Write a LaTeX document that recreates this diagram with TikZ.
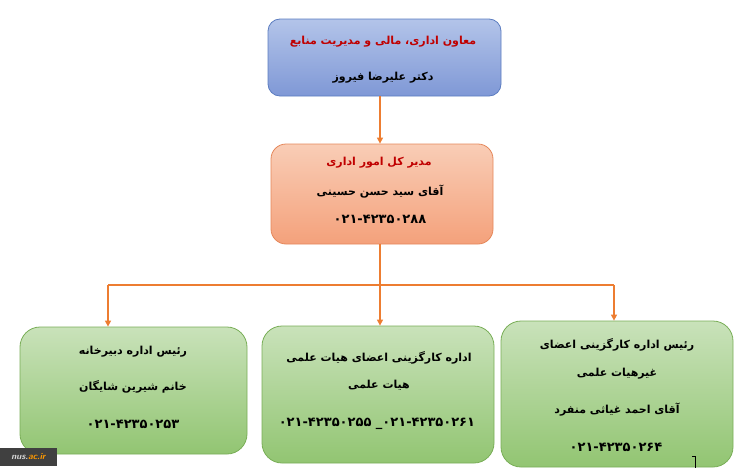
\documentclass[tikz,border=0pt]{standalone}
\usepackage{fontspec}
\usetikzlibrary{shadings,arrows.meta}
\TeXXeTstate=1
\newfontfamily\arabicfont[Script=Arabic]{DejaVu Sans}
\definecolor{bluetop}{HTML}{B3C4E9}
\definecolor{bluebot}{HTML}{7F98D6}
\definecolor{blueline}{HTML}{5B7CC0}
\definecolor{saltop}{HTML}{F9CDB6}
\definecolor{salbot}{HTML}{F4A17B}
\definecolor{salline}{HTML}{E5875A}
\definecolor{grtop}{HTML}{C9E2BA}
\definecolor{grbot}{HTML}{92C572}
\definecolor{grline}{HTML}{79AE57}
\definecolor{orangeline}{HTML}{ED7D31}
\definecolor{redtext}{HTML}{C00000}
\tikzset{
  box/.style={draw, line width=0.8pt, inner sep=0pt},
  bluebox/.style={box, draw=blueline, top color=bluetop, bottom color=bluebot, rounded corners=12pt},
  salbox/.style={box, draw=salline, top color=saltop, bottom color=salbot, rounded corners=15pt},
  grbox/.style={box, draw=grline, top color=grtop, bottom color=grbot, rounded corners=20pt},
  txt/.style={font=\arabicfont\bfseries\fontsize{11}{13}\selectfont, inner sep=0pt, text=black},
  numtxt/.style={txt, font=\arabicfont\bfseries\fontsize{13}{15}\selectfont},
  redtxt/.style={txt, text=redtext},
  conn/.style={draw=orangeline, line width=1.3pt},
  arr/.style={conn, -{Triangle[length=6pt,width=6pt]}}
}
\begin{document}
\begin{tikzpicture}[x=1pt,y=-1pt]
\useasboundingbox (0,0) rectangle (745,474);
% boxes
\node[bluebox, minimum width=233pt, minimum height=77pt] (top) at (384.5,57.5) {};
\node[salbox, minimum width=222pt, minimum height=100pt] (mid) at (382,194) {};
\node[grbox, minimum width=227pt, minimum height=127pt] (lb) at (133.5,390.5) {};
\node[grbox, minimum width=232pt, minimum height=137pt] (cb) at (378,394.5) {};
\node[grbox, minimum width=232pt, minimum height=146pt] (rb) at (617,394) {};
% texts
\node[redtxt] (t1) at (383,42) {\beginR معاون اداری، مالی و مدیریت منابع\endR};
\node[txt] (t2) at (383,78) {\beginR دکتر علیرضا فیروز\endR};
\node[redtxt] (m1) at (379,163) {\beginR مدیر کل امور اداری\endR};
\node[txt] (m2) at (380,192) {\beginR آقای سید حسن حسینی\endR};
\node[numtxt] (m3) at (380,219) {۰۲۱-۴۲۳۵۰۲۸۸};
\node[txt] (l1) at (133,352) {\beginR رئیس اداره دبیرخانه\endR};
\node[txt] (l2) at (133,387) {\beginR خانم شیرین شایگان\endR};
\node[numtxt] (l3) at (133,424) {۰۲۱-۴۲۳۵۰۲۵۳};
\node[txt] (c1) at (379,358) {\beginR اداره کارگزینی اعضای هیات علمی\endR};
\node[txt] (c2) at (379,385) {\beginR هیات علمی\endR};
\node[numtxt] (c3) at (377,424) {۰۲۱-۴۲۳۵۰۲۵۵ \hbox{\_}\hbox{۰۲۱-۴۲۳۵۰۲۶۱}};
\node[txt] (r1) at (617,345) {\beginR رئیس اداره کارگزینی اعضای\endR};
\node[txt] (r2) at (617,374) {\beginR غیرهیات علمی\endR};
\node[txt] (r3) at (617,410) {\beginR آقای احمد غیاثی منفرد\endR};
\node[numtxt] (r4) at (616,447) {۰۲۱-۴۲۳۵۰۲۶۴};
% connectors
\coordinate (jc) at (380,285);
\coordinate (jl) at (108,285);
\coordinate (jr) at (614,285);
\draw[arr] (top.south -| jc) -- (mid.north -| jc);
\draw[conn] (mid.south -| jc) -- (jc);
\draw[conn] (jl) -- (jr);
\draw[arr] (jl) -- (jl |- lb.north);
\draw[arr] (jc) -- (jc |- cb.north);
\draw[arr] (jr) -- (jr |- rb.north);
% watermark
\node[fill=black!75, minimum width=57pt, minimum height=18pt, inner sep=0pt] (wm) at (28.5,457) {};
\node[font=\sffamily\bfseries\itshape\fontsize{9}{10}\selectfont, inner sep=0pt] (wmt) at (28.5,457) {\textcolor{white!85!black}{nus.}\textcolor{orange!80!yellow}{ac.ir}};
% small mark
\coordinate (mk1) at (692,456);
\coordinate (mk2) at (695,456);
\coordinate (mk3) at (695,468);
\draw[line width=0.6pt] (mk1) -- (mk2) -- (mk3);
\end{tikzpicture}
\end{document}
